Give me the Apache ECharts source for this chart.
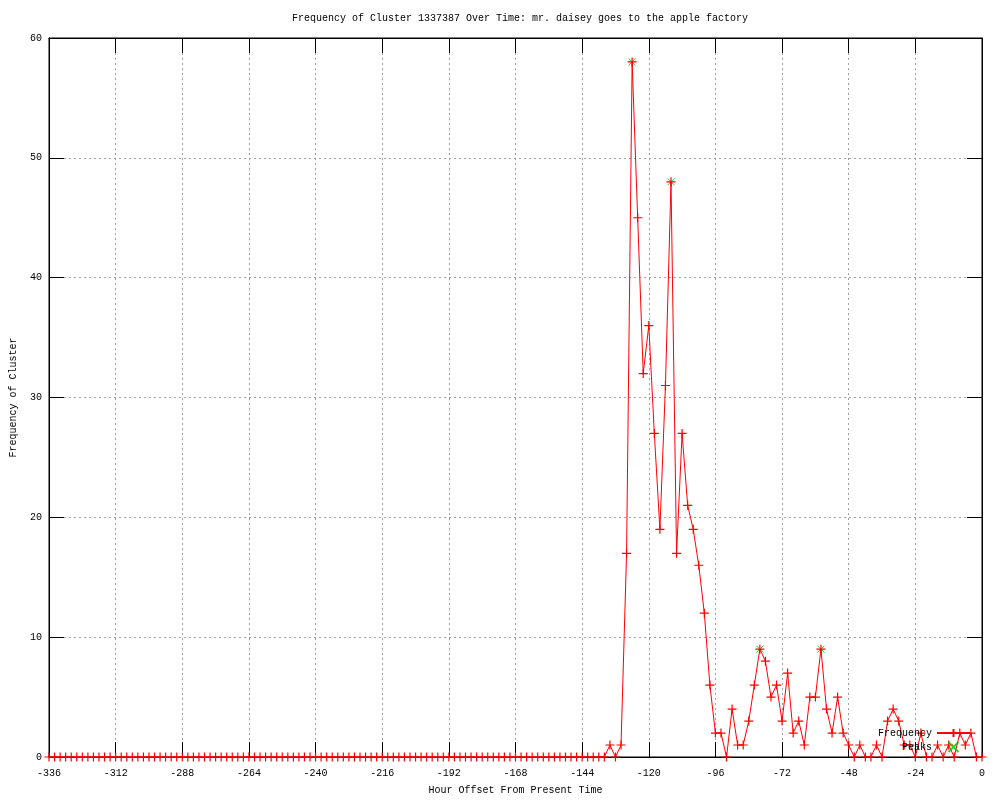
<!DOCTYPE html>
<html>
<head>
<meta charset="utf-8">
<script src="https://cdn.jsdelivr.net/npm/echarts@6/dist/echarts.min.js"></script>
<style>html,body{margin:0;padding:0;background:#fff;}#chart{width:1000px;height:800px;}</style>
</head>
<body>
<div id="chart"></div>
<script>
var titleText = 'Frequency of Cluster 1337387 Over Time: mr. daisey goes to the apple factory';
var xAxisName = 'Hour Offset From Present Time';
var yAxisName = 'Frequency of Cluster';

var hours = [
 -336,-334,-332,-330,-328,-326,-324,-322,-320,-318,-316,-314,-312,-310,-308,-306,-304,-302,-300,-298,
 -296,-294,-292,-290,-288,-286,-284,-282,-280,-278,-276,-274,-272,-270,-268,-266,-264,-262,-260,-258,
 -256,-254,-252,-250,-248,-246,-244,-242,-240,-238,-236,-234,-232,-230,-228,-226,-224,-222,-220,-218,
 -216,-214,-212,-210,-208,-206,-204,-202,-200,-198,-196,-194,-192,-190,-188,-186,-184,-182,-180,-178,
 -176,-174,-172,-170,-168,-166,-164,-162,-160,-158,-156,-154,-152,-150,-148,-146,-144,-142,-140,-138,
 -136,-134,-132,-130,-128,-126,-124,-122,-120,-118,-116,-114,-112,-110,-108,-106,-104,-102,-100,-98,
 -96,-94,-92,-90,-88,-86,-84,-82,-80,-78,-76,-74,-72,-70,-68,-66,-64,-62,-60,-58,
 -56,-54,-52,-50,-48,-46,-44,-42,-40,-38,-36,-34,-32,-30,-28,-26,-24,-22,-20,-18,
 -16,-14,-12,-10,-8,-6,-4,-2,0
];
var frequency = [
 0,0,0,0,0,0,0,0,0,0,0,0,0,0,0,0,0,0,0,0,
 0,0,0,0,0,0,0,0,0,0,0,0,0,0,0,0,0,0,0,0,
 0,0,0,0,0,0,0,0,0,0,0,0,0,0,0,0,0,0,0,0,
 0,0,0,0,0,0,0,0,0,0,0,0,0,0,0,0,0,0,0,0,
 0,0,0,0,0,0,0,0,0,0,0,0,0,0,0,0,0,0,0,0,
 0,1,0,1,17,58,45,32,36,27,19,31,48,17,27,21,19,16,12,6,
 2,2,0,4,1,1,3,6,9,8,5,6,3,7,2,3,1,5,5,9,
 4,2,5,2,1,0,1,0,0,1,0,3,4,3,1,1,0,2,0,0,
 1,0,1,0,2,1,2,0,0
];
var peakHours = [-126, -112, -80, -58];
var peakValues = [58, 48, 9, 9];

var xTicks = { min: -336, max: 0, interval: 24 };
var yTicks = { min: 0, max: 60, interval: 10 };

var freqData = hours.map(function (h, i) { return [h, frequency[i]]; });
var peakData = peakHours.map(function (h, i) { return [h, peakValues[i]]; });

var FONT = 'Liberation Mono';
var plusPath = 'path://M0,5L10,5M5,0L5,10';
var crossPath = 'path://M0,0L10,10M10,0L0,10';

function axisBase(pos, ticks) {
  return {
    type: 'value', position: pos,
    min: ticks.min, max: ticks.max, interval: ticks.interval,
    axisLine: { show: true, onZero: false, lineStyle: { color: '#000', width: 1 } },
    axisTick: { show: true, inside: true, length: 15, lineStyle: { color: '#000' } },
    axisLabel: { show: false },
    splitLine: { show: false }
  };
}

var xMain = axisBase('bottom', xTicks);
xMain.name = xAxisName; xMain.nameLocation = 'middle'; xMain.nameGap = 28;
xMain.nameTextStyle = { fontFamily: FONT, fontSize: 10, color: '#000' };
xMain.axisLabel = { show: true, fontFamily: FONT, fontSize: 10, color: '#000', margin: 11 };
xMain.splitLine = { show: true, lineStyle: { color: '#a0a0a0', type: [2, 3], width: 1 } };

var yMain = axisBase('left', yTicks);
yMain.name = yAxisName; yMain.nameLocation = 'middle'; yMain.nameGap = 31;
yMain.nameTextStyle = { fontFamily: FONT, fontSize: 10, color: '#000' };
yMain.axisLabel = { show: true, fontFamily: FONT, fontSize: 10, color: '#000', margin: 7 };
yMain.splitLine = { show: true, lineStyle: { color: '#a0a0a0', type: [2, 3], width: 1 } };

var chart = echarts.init(document.getElementById('chart'), null, { renderer: 'canvas' });
chart.setOption({
  animation: false,
  backgroundColor: '#ffffff',
  title: {
    text: titleText,
    left: 515, top: 8, textAlign: 'center',
    textStyle: { fontFamily: FONT, fontSize: 10, fontWeight: 'normal', color: '#000' }
  },
  legend: {
    orient: 'vertical',
    right: 24, top: 723,
    align: 'right',
    itemWidth: 33, itemHeight: 10, itemGap: 3,
    textStyle: { fontFamily: FONT, fontSize: 10, color: '#000' },
    data: ['Frequency', 'Peaks']
  },
  grid: {
    left: 49, top: 38, width: 933, height: 722,
    show: true, borderColor: '#000', borderWidth: 1, backgroundColor: 'transparent'
  },
  xAxis: [xMain, axisBase('top', xTicks)],
  yAxis: [yMain, axisBase('right', yTicks)],
  series: [{
    name: 'Frequency',
    type: 'line',
    xAxisIndex: 0, yAxisIndex: 0,
    data: freqData,
    showAllSymbol: true,
    symbol: plusPath,
    symbolSize: 9,
    lineStyle: { color: '#ff0000', width: 1 },
    itemStyle: { color: '#ff0000', borderColor: '#ff0000', borderWidth: 1.2 },
    clip: false,
    z: 2
  }, {
    name: 'Peaks',
    type: 'scatter',
    xAxisIndex: 0, yAxisIndex: 0,
    data: peakData,
    symbol: crossPath,
    symbolSize: 7,
    itemStyle: { color: '#00c000', borderColor: '#00c000', borderWidth: 1 },
    z: 1
  }]
});
</script>
</body>
</html>
